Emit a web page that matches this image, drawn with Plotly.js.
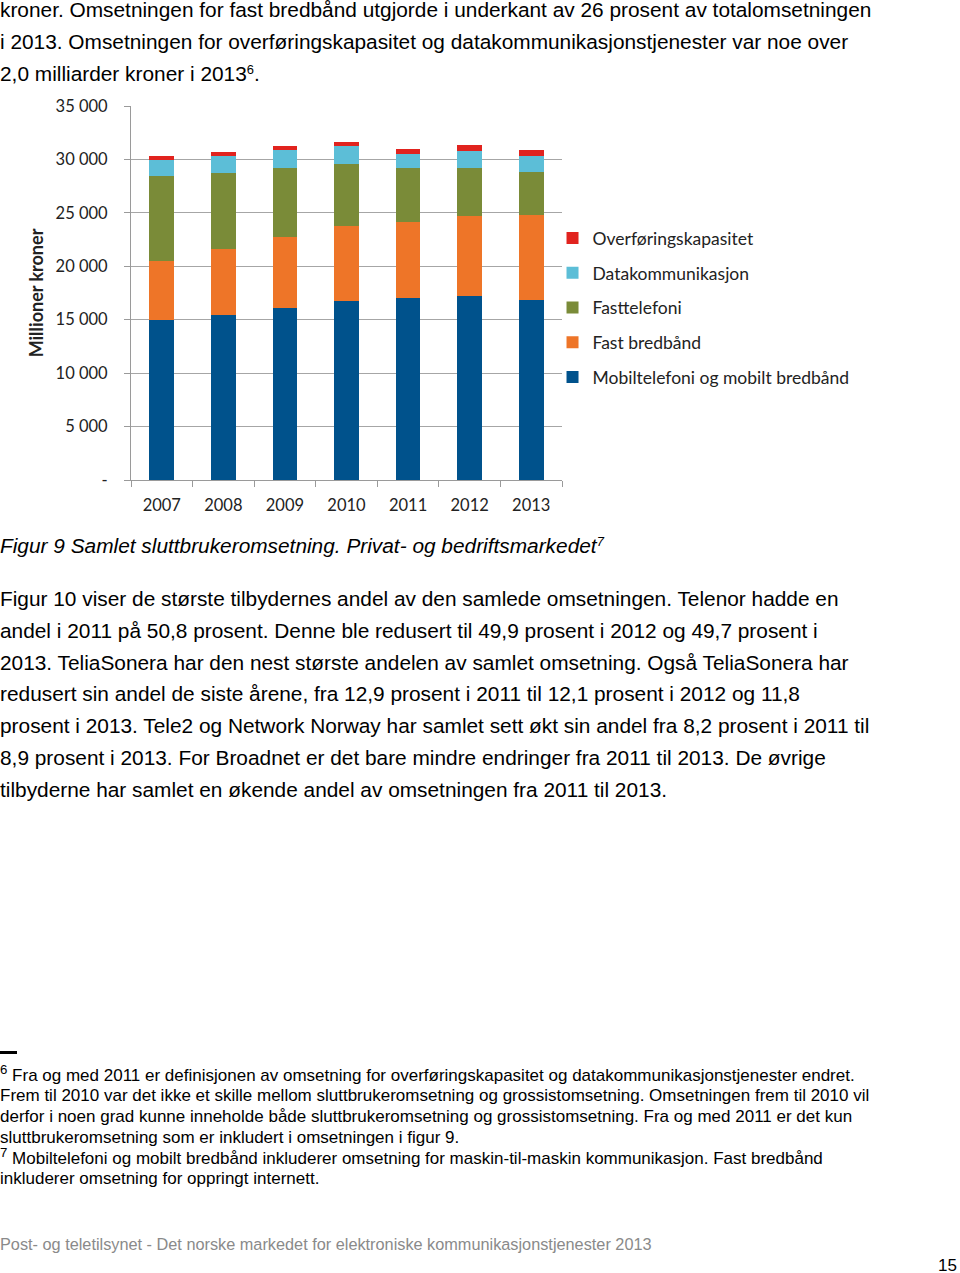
<!DOCTYPE html>
<html>
<head>
<meta charset="utf-8">
<script src="https://cdn.plot.ly/plotly-3.0.1.min.js"></script>
<style>
  html, body { margin: 0; padding: 0; background: #fff; }
  body { width: 960px; height: 1273px; position: relative; overflow: hidden; font-family: "Liberation Sans", Arial, sans-serif; color: #000; }
  .blk { position: absolute; left: 0; white-space: nowrap; }
  .body20 { font-size: 20.85px; line-height: 31.8px; }
  .fn { font-size: 17px; line-height: 20.8px; }
  sup { font-size: 0.62em; line-height: 0; vertical-align: 0.55em; }
  .fn sup { font-size: 0.78em; vertical-align: 0.5em; }
  #chart { position: absolute; left: 0; top: 90px; width: 960px; height: 440px; }
</style>
</head>
<body>
<div class="blk body20" style="top:-6px;">kroner. Omsetningen for fast bredbånd utgjorde i underkant av 26 prosent av totalomsetningen<br>i 2013. Omsetningen for overføringskapasitet og datakommunikasjonstjenester var noe over<br>2,0 milliarder kroner i 2013<sup>6</sup>.</div>

<div id="chart"></div>

<div class="blk body20" style="top:530px; font-style:italic;">Figur 9 Samlet sluttbrukeromsetning. Privat- og bedriftsmarkedet<sup>7</sup></div>

<div class="blk body20" style="top:583px;">Figur 10 viser de største tilbydernes andel av den samlede omsetningen. Telenor hadde en<br>andel i 2011 på 50,8 prosent. Denne ble redusert til 49,9 prosent i 2012 og 49,7 prosent i<br>2013. TeliaSonera har den nest største andelen av samlet omsetning. Også TeliaSonera har<br>redusert sin andel de siste årene, fra 12,9 prosent i 2011 til 12,1 prosent i 2012 og 11,8<br>prosent i 2013. Tele2 og Network Norway har samlet sett økt sin andel fra 8,2 prosent i 2011 til<br>8,9 prosent i 2013. For Broadnet er det bare mindre endringer fra 2011 til 2013. De øvrige<br>tilbyderne har samlet en økende andel av omsetningen fra 2011 til 2013.</div>

<div style="position:absolute; left:0; top:1051px; width:17px; height:3px; background:#000;"></div>

<div class="blk fn" style="top:1065.5px;"><sup>6</sup> Fra og med 2011 er definisjonen av omsetning for overføringskapasitet og datakommunikasjonstjenester endret.<br>Frem til 2010 var det ikke et skille mellom sluttbrukeromsetning og grossistomsetning. Omsetningen frem til 2010 vil<br>derfor i noen grad kunne inneholde både sluttbrukeromsetning og grossistomsetning. Fra og med 2011 er det kun<br>sluttbrukeromsetning som er inkludert i omsetningen i figur 9.<br><sup>7</sup> Mobiltelefoni og mobilt bredbånd inkluderer omsetning for maskin-til-maskin kommunikasjon. Fast bredbånd<br>inkluderer omsetning for oppringt internett.</div>

<div class="blk" style="top:1235px; font-size:16.3px; color:#8a8a8a;">Post- og teletilsynet - Det norske markedet for elektroniske kommunikasjonstjenester 2013</div>
<div class="blk" style="top:1256px; left:938px; font-size:17px;">15</div>

<script>
const years = ['2007', '2008', '2009', '2010', '2011', '2012', '2013'];
const mobil = [14950, 15440, 16060, 16750, 17060, 17250, 16870];
const fastBredband = [5520, 6220, 6660, 7060, 7100, 7500, 7910];
const fasttelefoni = [7940, 7030, 6440, 5720, 5000, 4470, 4000];
const datakommunikasjon = [1500, 1620, 1710, 1720, 1370, 1590, 1530];
const overforingskapasitet = [450, 410, 380, 410, 440, 530, 560];
const yTickVals = [0, 5000, 10000, 15000, 20000, 25000, 30000, 35000];
const yTickText = ['-', '5 000', '10 000', '15 000', '20 000', '25 000', '30 000', '35 000'];

const series = [
  {name: 'Mobiltelefoni og mobilt bredbånd', y: mobil, color: '#00528C'},
  {name: 'Fast bredbånd', y: fastBredband, color: '#EE7528'},
  {name: 'Fasttelefoni', y: fasttelefoni, color: '#7A8B38'},
  {name: 'Datakommunikasjon', y: datakommunikasjon, color: '#5CBED7'},
  {name: 'Overføringskapasitet', y: overforingskapasitet, color: '#E1231E'}
];

const traces = series.map((s, i) => ({
  type: 'bar', x: years, y: s.y, name: s.name, legendgroup: 'g' + i,
  legendrank: 1000 - i * 10,
  marker: {color: s.color, line: {width: 0}}, hoverinfo: 'x+y+name'
}));

const layout = {
  width: 960, height: 440,
  margin: {l: 131, r: 398, t: 16, b: 50},
  barmode: 'stack', bargap: 0.6,
  paper_bgcolor: '#fff', plot_bgcolor: '#fff',
  font: {family: 'Lato, "Open Sans", sans-serif', size: 16, color: '#222'},
  xaxis: {
    type: 'category', showline: true, linecolor: '#9a9a9a', linewidth: 1,
    ticks: 'outside', tickson: 'boundaries', ticklen: 6, tickcolor: '#9a9a9a',
    ticklabelstandoff: 10, showgrid: false, zeroline: false,
    tickfont: {size: 16.5, color: '#222'}
  },
  yaxis: {
    range: [0, 35000], tickvals: yTickVals, ticktext: yTickText,
    showline: true, linecolor: '#9a9a9a', linewidth: 1,
    ticks: 'outside', ticklen: 6, tickcolor: '#9a9a9a', ticklabelstandoff: 13,
    showgrid: true, gridcolor: '#a6a6a6', gridwidth: 1, zeroline: false,
    tickfont: {size: 16.5, color: '#222'},
    title: {text: 'Millioner kroner', font: {size: 18, color: '#222', family: 'Lato, "Open Sans", sans-serif', weight: 'bold'}, standoff: 7}
  },
  legend: {
    x: 0.978, y: 0.695, xanchor: 'left', yanchor: 'top',
    traceorder: 'grouped', tracegroupgap: 9,
    font: {size: 17.5, color: '#222'}, bgcolor: 'rgba(0,0,0,0)'
  },
  showlegend: true
};

Plotly.newPlot('chart', traces, layout, {displayModeBar: false, staticPlot: true});
</script>
</body>
</html>
